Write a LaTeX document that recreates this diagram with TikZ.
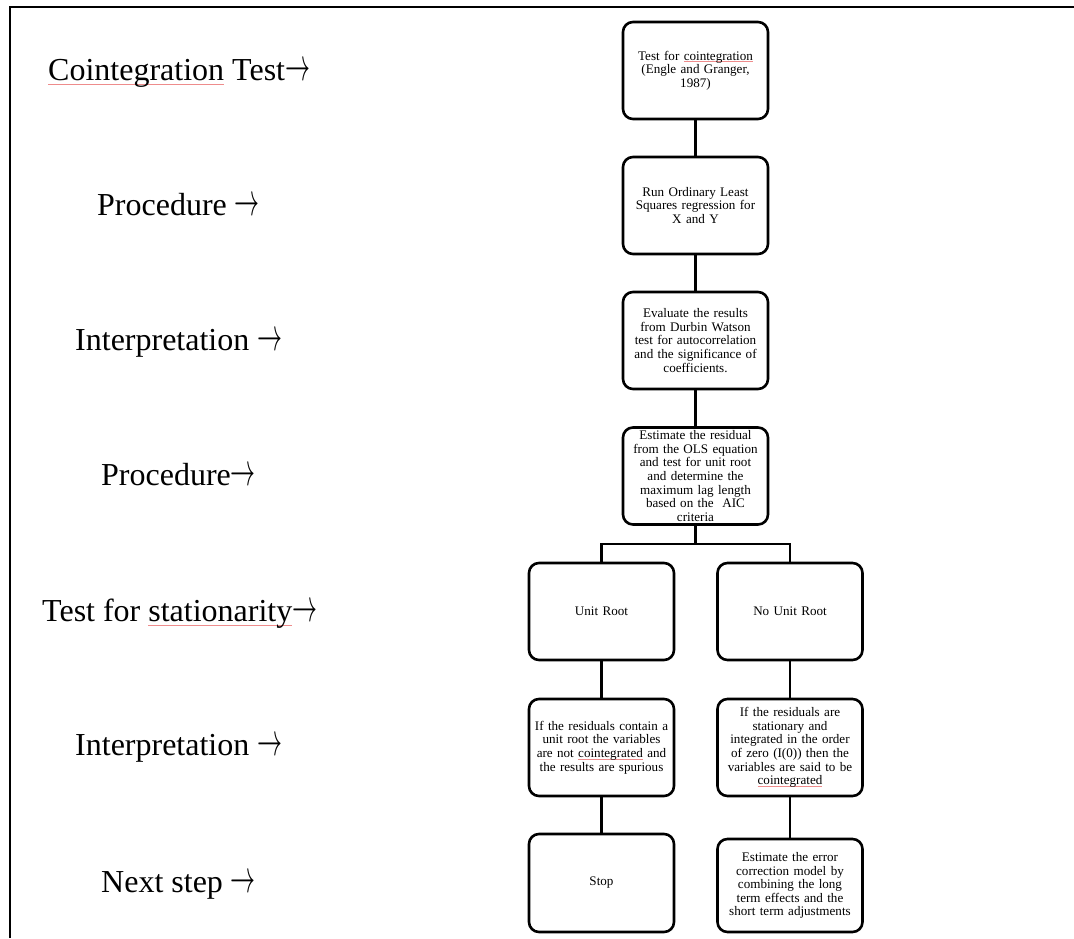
\RequirePackage{fix-cm}
\documentclass[tikz,border=0pt]{standalone}
\usepackage{fontspec}
\setmainfont{Liberation Serif}
\usepackage{graphicx}
\usepackage{xcolor}
\definecolor{spellred}{RGB}{238,140,140}
\newcommand\spl[1]{\leavevmode\setbox0\hbox{#1}\rlap{\color{spellred}\rule[-0.14em]{\wd0}{0.8pt}}\box0\relax}
\newcommand\arr{\raisebox{-0.01em}{\scalebox{0.78}[1.45]{$\rightarrow$}}}
\newcommand\boxfont{\fontsize{13.1}{13.6}\selectfont}
\newcommand\lblfont{\fontsize{32}{36}\selectfont}
\tikzset{
  stepbox/.style={draw, line width=2.6pt, rounded corners=10pt, minimum width=145pt, minimum height=97pt, text width=142pt, align=center, font=\boxfont, inner sep=0pt},
  lbl/.style={font=\lblfont, inner sep=0pt, anchor=base west},
  conn/.style={line width=2.6pt},
  frame/.style={line width=2.7pt}
}
\begin{document}
\begin{tikzpicture}[x=1pt,y=-1pt]
\useasboundingbox (0,0) rectangle (1074,938);
\draw[frame] (10,938) -- (10,7) -- (1074,7);

% left labels
\node[lbl] (l1) at (48,80) {\spl{Cointegration} Test\arr};
\node[lbl] (l2) at (97,215) {Procedure \arr};
\node[lbl] (l3) at (75,350) {Interpretation \arr};
\node[lbl] (l4) at (101,485) {Procedure\arr};
\node[lbl] (l5) at (42,621) {Test for \spl{stationarity}\arr};
\node[lbl] (l6) at (75,755) {Interpretation \arr};
\node[lbl] (l7) at (101,892) {Next step \arr};

% main column
\node[stepbox] (b1) at (695.5,70.5) {Test for \spl{cointegration}\\(Engle and Granger,\\1987)};
\node[stepbox] (b2) at (695.5,205.5) {Run Ordinary Least\\Squares regression for\\X and Y};
\node[stepbox] (b3) at (695.5,340.5) {Evaluate the results\\from Durbin Watson\\test for autocorrelation\\and the significance of\\coefficients.};
\node[stepbox] (b4) at (695.5,476) {Estimate the residual\\from the OLS equation\\and test for unit root\\and determine the\\maximum lag length\\based on the~~AIC\\criteria};

% branches
\node[stepbox] (u1) at (601.5,611.5) {Unit Root};
\node[stepbox] (n1) at (790,611.5) {No Unit Root};
\node[stepbox] (u2) at (601.5,747.5) {If the residuals contain a\\unit root the variables\\are not \spl{cointegrated} and\\the results are spurious};
\node[stepbox] (n2) at (790,747.5) {If the residuals are\\stationary and\\integrated in the order\\of zero (I(0)) then the\\variables are said to be\\\spl{cointegrated}};
\node[stepbox, minimum height=98pt] (u3) at (601.5,883) {Stop};
\node[stepbox, minimum height=93pt] (n3) at (790,885.5) {Estimate the error\\correction model by\\combining the long\\term effects and the\\short term adjustments};

% connectors
\draw[conn] (b1.south) -- (b2.north);
\draw[conn] (b2.south) -- (b3.north);
\draw[conn] (b3.south) -- (b4.north);
\draw[conn] (b4.south) -- ++(0,18) coordinate (j);
\draw[conn] (u1.north) |- (j) -| (n1.north);
\draw[conn] (u1.south) -- (u2.north);
\draw[conn] (u2.south) -- (u3.north);
\draw[conn] (n1.south) -- (n2.north);
\draw[conn] (n2.south) -- (n3.north);
\end{tikzpicture}
\end{document}
